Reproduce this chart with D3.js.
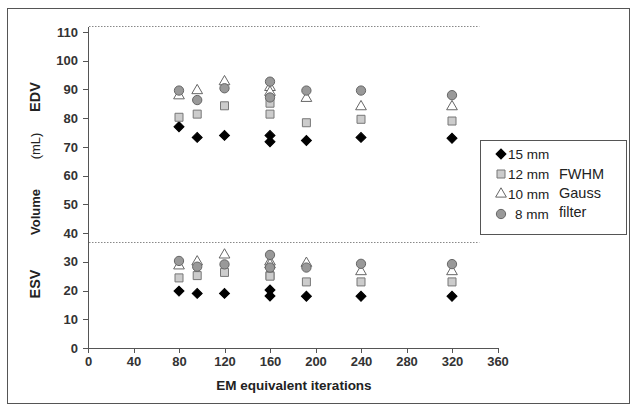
<!DOCTYPE html>
<html>
<head>
<meta charset="utf-8">
<script src="https://cdn.jsdelivr.net/npm/d3@7"></script>
<style>
  * { margin: 0; padding: 0; }
  body { background: #fff; }
  text { font-family: 'Liberation Sans', Arial, sans-serif; fill: #222; }
  .axis path, .axis line { stroke: #555; stroke-width: 1; shape-rendering: crispEdges; }
  .axis text { font-size: 13px; font-weight: bold; fill: #333; }
</style>
</head>
<body>
<div id="chart"></div>
<script>
// EM equivalent iterations (160 appears twice: two reconstructions)
const iterations = [80, 96, 120, 160, 160, 192, 240, 320];
const filters = ["15 mm", "12 mm", "10 mm", "8 mm"];

// end-diastolic volume (mL), one array per filter
const edv15 = [77, 73.3, 74, 74, 71.8, 72.2, 73.3, 73];
const edv12 = [80.3, 81.4, 84.3, 85.2, 81.4, 78.4, 79.6, 79];
const edv10 = [87.8, 89.6, 92.7, 90.7, 89, 86.9, 84, 84];
const edv8  = [89.6, 86.3, 90.4, 92.7, 87.2, 89.6, 89.6, 88];

// end-systolic volume (mL)
const esv15 = [19.8, 19, 19, 20.2, 18.1, 18, 18, 18];
const esv12 = [24.4, 25.2, 26.3, 25.2, 25, 23, 23, 23];
const esv10 = [28.6, 30, 32.4, 30, 29, 29.5, 26.6, 26.6];
const esv8  = [30.3, 28.3, 29.1, 32.4, 28, 28, 29.3, 29.2];

const xTicks = [0, 40, 80, 120, 160, 200, 240, 280, 320, 360];
const yTicks = [0, 10, 20, 30, 40, 50, 60, 70, 80, 90, 100, 110];
const dividers = [112, 37];   // dotted separators (top, EDV/ESV)
const dividerEnd = 344;

const W = 636, H = 411;
const svg = d3.select("#chart").append("svg")
  .attr("width", W).attr("height", H);

// outer frame
svg.append("rect")
  .attr("x", 7.5).attr("y", 8.5).attr("width", 622).attr("height", 395)
  .attr("fill", "none").attr("stroke", "#555");

const x = d3.scaleLinear().domain([0, 360]).range([88, 497.5]);
const y = d3.scaleLinear().domain([0, 112]).range([348, 26.2]);

svg.append("g")
  .attr("class", "axis")
  .attr("transform", "translate(0," + y(0) + ")")
  .call(d3.axisBottom(x).tickValues(xTicks).tickSize(5).tickSizeOuter(0).tickPadding(4));

svg.append("g")
  .attr("class", "axis")
  .attr("transform", "translate(" + x(0) + ",0)")
  .call(d3.axisLeft(y).tickValues(yTicks).tickSize(5).tickSizeOuter(0).tickPadding(5));

// dotted separators
svg.selectAll(".divider")
  .data(dividers)
  .enter().append("line")
  .attr("x1", x(0) + 1).attr("x2", x(dividerEnd))
  .attr("y1", d => Math.round(y(d)) + 0.5).attr("y2", d => Math.round(y(d)) + 0.5)
  .attr("stroke", "#888").attr("stroke-width", 1)
  .attr("stroke-dasharray", "1.5,1.5");

// marker styles, in filter order
const markers = [
  { sym: d3.symbolSquare, size: 50, rot: 45, fill: "#000", stroke: "#000" },
  { sym: d3.symbolSquare, size: 64, rot: 0, fill: "#ccc", stroke: "#777" },
  { sym: d3.symbolTriangle, size: 50, rot: 0, fill: "#fff", stroke: "#666" },
  { sym: d3.symbolCircle, size: 68, rot: 0, fill: "#999", stroke: "#666" }
];

const edv = [edv15, edv12, edv10, edv8];
const esv = [esv15, esv12, esv10, esv8];

function drawSeries(values, m) {
  svg.append("g").selectAll("path")
    .data(values)
    .enter().append("path")
    .attr("d", d3.symbol().type(m.sym).size(m.size))
    .attr("transform", (d, i) => "translate(" + x(iterations[i]) + "," + y(d) + ") rotate(" + m.rot + ")")
    .attr("fill", m.fill)
    .attr("stroke", m.stroke)
    .attr("stroke-width", 1);
}
filters.forEach((f, k) => {
  drawSeries(edv[k], markers[k]);
  drawSeries(esv[k], markers[k]);
});

// axis titles
svg.append("text")
  .attr("x", 294).attr("y", 390)
  .attr("text-anchor", "middle")
  .attr("font-size", 13.5).attr("font-weight", "bold")
  .text("EM equivalent iterations");

function vText(cx, cy, txt, size, weight) {
  svg.append("text")
    .attr("transform", "translate(" + cx + "," + cy + ") rotate(-90)")
    .attr("text-anchor", "middle")
    .attr("font-size", size).attr("font-weight", weight)
    .text(txt);
}
vText(40, 97, "EDV", 14.5, "bold");
vText(40, 284, "ESV", 14.5, "bold");
vText(40, 212, "Volume", 13, "bold");
vText(40, 146, "(mL)", 13, "normal");

// legend
const lg = svg.append("g");
lg.append("rect")
  .attr("x", 480.5).attr("y", 140.5).attr("width", 146).attr("height", 94)
  .attr("fill", "#fff").attr("stroke", "#555");

const legendRows = lg.selectAll(".row")
  .data(filters)
  .enter().append("g")
  .attr("transform", (d, i) => "translate(501," + (154 + i * 20) + ")");
legendRows.append("path")
  .attr("d", (d, i) => d3.symbol().type(markers[i].sym).size(markers[i].size)())
  .attr("transform", (d, i) => "rotate(" + markers[i].rot + ")")
  .attr("fill", (d, i) => markers[i].fill)
  .attr("stroke", (d, i) => markers[i].stroke);
legendRows.append("text")
  .attr("x", (d, i) => i === 3 ? 14 : 7).attr("y", 5)
  .attr("font-size", 13.5)
  .text(d => d);

["FWHM", "Gauss", "filter"].forEach((t, i) => {
  lg.append("text")
    .attr("x", 559).attr("y", 179 + i * 19)
    .attr("font-size", 14.5)
    .text(t);
});
</script>
</body>
</html>
